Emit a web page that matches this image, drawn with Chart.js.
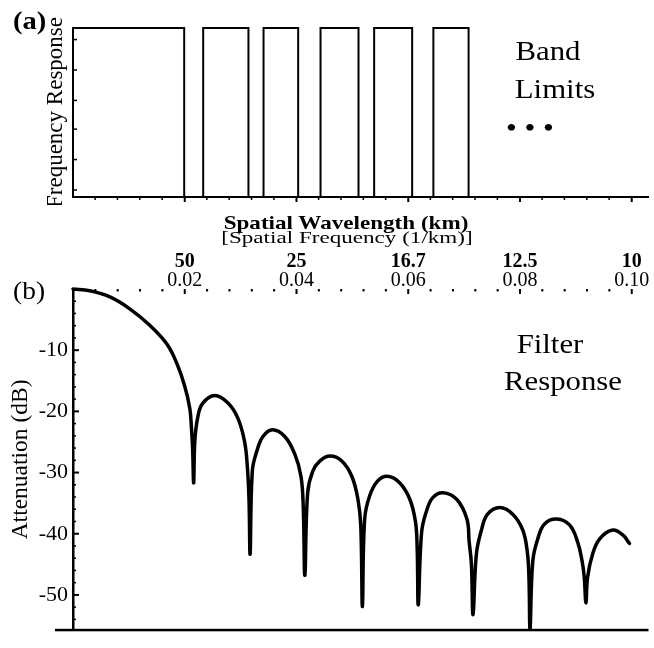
<!DOCTYPE html>
<html><head><meta charset="utf-8">
<script src="https://cdn.jsdelivr.net/npm/chart.js@4.4.1/dist/chart.umd.min.js"></script>
<style>
html,body{margin:0;padding:0;background:#fff;}
#wrap{position:relative;width:654px;height:648px;overflow:hidden;background:#fff;}
canvas{position:absolute;left:0;}
.t{position:absolute;white-space:nowrap;font-family:'Liberation Serif','Times New Roman',serif;color:#000;line-height:1;}
.c{transform:translateX(-50%) scaleX(1.1);transform-origin:50% 50%;}
.l{transform:scaleX(1.1);transform-origin:0 50%;}
</style></head>
<body><div id="wrap">
<canvas id="ca" width="654" height="205" style="top:0"></canvas>
<canvas id="cb" width="654" height="448" style="top:200px"></canvas>
<div class="t l" style="left:13px;top:8px;font-size:26px;font-weight:bold;">(a)</div>
<div class="t l" style="left:13px;top:278px;font-size:25px;">(b)</div>
<div class="t c" style="left:548px;top:36.5px;font-size:28px;">Band</div>
<div class="t c" style="left:555px;top:74.5px;font-size:28px;">Limits</div>
<div class="t c" style="left:530px;top:113.5px;font-size:28px;">• • •</div>
<div class="t c" style="left:550px;top:329.5px;font-size:28px;">Filter</div>
<div class="t c" style="left:563px;top:366.5px;font-size:28px;">Response</div>
<div class="t" style="left:346px;top:212.4px;font-size:21px;font-weight:bold;transform:translateX(-50%) scaleX(1.1) scaleY(0.92);transform-origin:50% 84%;">Spatial Wavelength (km)</div>
<div class="t" style="left:347px;top:226.4px;font-size:21px;transform:translateX(-50%) scaleX(1.1) scaleY(0.82);transform-origin:50% 84%;">[Spatial Frequency (1/km)]</div>
</div>
<script>
// ---- Panel (a): band limits ----
const bandStart = [0, 0.0233, 0.0341, 0.0443, 0.0539, 0.0645];
const bandEnd   = [0.0199, 0.0314, 0.0403, 0.0511, 0.0607, 0.0708];
const bandLevel = [1, 1, 1, 1, 1, 1];
const bandLeftTicks = [0.04, 0.22, 0.40, 0.57, 0.75, 0.93];

// ---- Panel (b): filter response ----
const freq = [0,0.0030,0.0066,0.0101,0.0137,0.0168,0.0186,0.0200,0.0209,0.0212,0.0214,0.0216,
  0.0218,0.0223,0.0232,0.0254,0.0277,0.0295,0.0307,0.0312,0.0315,0.0317,
  0.0321,0.0329,0.0340,0.0357,0.0379,0.0397,0.0408,0.0412,0.0415,
  0.0420,0.0429,0.0442,0.0460,0.0481,0.0499,0.0510,0.0515,0.0518,
  0.0522,0.0531,0.0545,0.0563,0.0585,0.0603,0.0613,0.0616,0.0618,
  0.0624,0.0633,0.0644,0.0662,0.0687,0.0705,0.0709,0.0713,0.0716,
  0.0722,0.0731,0.0742,0.0764,0.0787,0.0805,0.0813,0.0816,0.0818,
  0.0823,0.0832,0.0844,0.0866,0.0889,0.0903,0.0911,0.0915,0.0918,
  0.0921,0.0930,0.0943,0.0966,0.0984,0.0996];
const attenuation = [0,-0.3,-1.3,-3.2,-5.9,-9.0,-12.2,-15.9,-19.5,-22.7,-25.9,-31.7,
  -24.9,-21.1,-18.7,-17.4,-18.6,-21.1,-24.9,-29.0,-34.4,-43.3,
  -29.7,-26.5,-24.1,-23.0,-24.1,-27.0,-30.6,-35.4,-46.8,
  -33.3,-29.8,-28.1,-27.3,-28.1,-30.6,-34.4,-38.6,-51.9,
  -37.6,-33.8,-31.4,-30.6,-31.7,-34.4,-38.1,-42.4,-51.6,
  -39.7,-36.2,-34.1,-33.3,-34.4,-37.6,-41.3,-44.9,-53.2,
  -43.3,-39.4,-36.8,-35.7,-36.8,-39.4,-42.9,-47.1,-55.6,
  -44.4,-40.8,-38.4,-37.6,-38.6,-41.3,-44.4,-47.1,-51.3,
  -47.1,-43.3,-40.8,-39.4,-40.2,-41.6];

const freqMajorTicks = [0.02, 0.04, 0.06, 0.08, 0.10];
const wavelengthLabels = ['50', '25', '16.7', '12.5', '10'];
const freqMinorTicks = [0.004,0.008,0.012,0.016,0.024,0.028,0.032,0.036,0.044,0.048,0.052,0.056,0.064,0.068,0.072,0.076,0.084,0.088,0.092,0.096];
const attnMajorTicks = [0, -10, -20, -30, -40, -50];
const attnLabelTicks = [-10, -20, -30, -40, -50];
const attnMinorTicks = [-2,-4,-6,-8,-12,-14,-16,-18,-22,-24,-26,-28,-32,-34,-36,-38,-42,-44,-46,-48,-52,-54];

const FONT = "'Liberation Serif', 'Times New Roman', serif";
const XMAX = 0.103;

// Panel (a)
const bandTickPlugin = {
  id: 'bandTicks',
  afterDraw(chart) {
    const {ctx, chartArea: a, scales} = chart;
    ctx.save();
    ctx.fillStyle = '#000';
    freqMajorTicks.forEach(v => { const p = scales.x.getPixelForValue(v); ctx.fillRect(p - 1, a.bottom, 2, 5); });
    freqMinorTicks.forEach(v => { const p = scales.x.getPixelForValue(v); ctx.fillRect(p - 1, a.bottom, 1.5, 3); });
    bandLeftTicks.forEach(v => { const p = scales.y.getPixelForValue(v); ctx.fillRect(a.left, p - 1, 4, 1.5); });
    ctx.restore();
  }
};

new Chart(document.getElementById('ca'), {
  type: 'line',
  data: {
    datasets: bandStart.map((s, i) => ({
      data: [{x: s, y: 0}, {x: s, y: bandLevel[i]}, {x: bandEnd[i], y: bandLevel[i]}, {x: bandEnd[i], y: 0}],
      borderColor: '#000', borderWidth: 2, pointRadius: 0, tension: 0, fill: false, clip: false
    }))
  },
  options: {
    responsive: false, animation: false, devicePixelRatio: 1,
    layout: {padding: {left: 0, right: 5.5, top: 28, bottom: 0}},
    plugins: {legend: {display: false}, tooltip: {enabled: false}},
    scales: {
      x: {type: 'linear', position: 'bottom', min: 0, max: XMAX,
          ticks: {display: false}, grid: {display: false, drawTicks: false},
          border: {display: true, width: 2, color: '#000'},
          afterFit: s => { s.height = 8; }},
      y: {type: 'linear', position: 'left', min: 0, max: 1,
          ticks: {display: false}, grid: {display: false, drawTicks: false},
          border: {display: true, width: 2, color: '#000'},
          title: {display: true, text: 'Frequency Response', color: '#000',
                  font: {family: FONT, size: 23}, padding: {top: 42, bottom: 0}},
          afterFit: s => { s.width = 73; }}
    }
  },
  plugins: [bandTickPlugin]
});

// Panel (b)
const respTickPlugin = {
  id: 'respTicks',
  afterDraw(chart) {
    const {ctx, chartArea: a, scales} = chart;
    ctx.save();
    ctx.fillStyle = '#000';
    freqMinorTicks.forEach(v => { const p = scales.x.getPixelForValue(v); ctx.fillRect(p - 1, a.top, 2, 2.5); });
    freqMajorTicks.forEach(v => { const p = scales.x.getPixelForValue(v); ctx.fillRect(p - 1, a.top, 2, 5); });
    attnMinorTicks.forEach(v => { const p = scales.y.getPixelForValue(v); ctx.fillRect(a.left, p - 0.75, 3, 1.5); });
    attnMajorTicks.forEach(v => { const p = scales.y.getPixelForValue(v); ctx.fillRect(a.left, p - 1, 6, 2); });
    ctx.fillRect(a.left - 18, a.bottom - 1, a.right - a.left + 18, 2.5);
    ctx.restore();
  }
};

new Chart(document.getElementById('cb'), {
  type: 'line',
  data: {
    datasets: [{
      data: freq.map((f, i) => ({x: f, y: attenuation[i]})),
      borderColor: '#000', borderWidth: 3.5, pointRadius: 0,
      tension: 0.4, fill: false, clip: false,
      borderJoinStyle: 'round', borderCapStyle: 'round',
      xAxisID: 'x', yAxisID: 'y'
    }]
  },
  options: {
    responsive: false, animation: false, devicePixelRatio: 1,
    layout: {padding: {left: 0, right: 5.5, top: 39, bottom: 8}},
    plugins: {legend: {display: false}, tooltip: {enabled: false}},
    scales: {
      x: {type: 'linear', position: 'top', weight: 0, min: 0, max: XMAX,
          afterBuildTicks: s => { s.ticks = freqMajorTicks.map(v => ({value: v})); },
          ticks: {color: '#000', font: {family: FONT, size: 20}, padding: -4, maxRotation: 0,
                  callback: v => v.toFixed(2)},
          grid: {display: false, drawTicks: false}, border: {display: false},
          afterFit: s => { s.height = 20; }},
      xw: {type: 'linear', position: 'top', weight: 1, min: 0, max: XMAX,
          afterBuildTicks: s => { s.ticks = freqMajorTicks.map(v => ({value: v})); },
          ticks: {color: '#000', font: {family: FONT, size: 20, weight: 'bold'}, padding: -5, maxRotation: 0,
                  callback: (v, i) => wavelengthLabels[i]},
          grid: {display: false, drawTicks: false}, border: {display: false},
          afterFit: s => { s.height = 30; }},
      y: {type: 'linear', position: 'left', min: -55.7, max: 0,
          afterBuildTicks: s => { s.ticks = attnLabelTicks.map(v => ({value: v})); },
          ticks: {color: '#000', font: {family: FONT, size: 22}, padding: 5, callback: v => String(v)},
          grid: {display: false, drawTicks: false},
          border: {display: true, width: 2.5, color: '#000'},
          title: {display: true, text: 'Attenuation (dB)', color: '#000',
                  font: {family: FONT, size: 23.5}, padding: {top: 7, bottom: 0}},
          afterFit: s => { s.width = 73; }}
    }
  },
  plugins: [respTickPlugin]
});
</script>
</body></html>
